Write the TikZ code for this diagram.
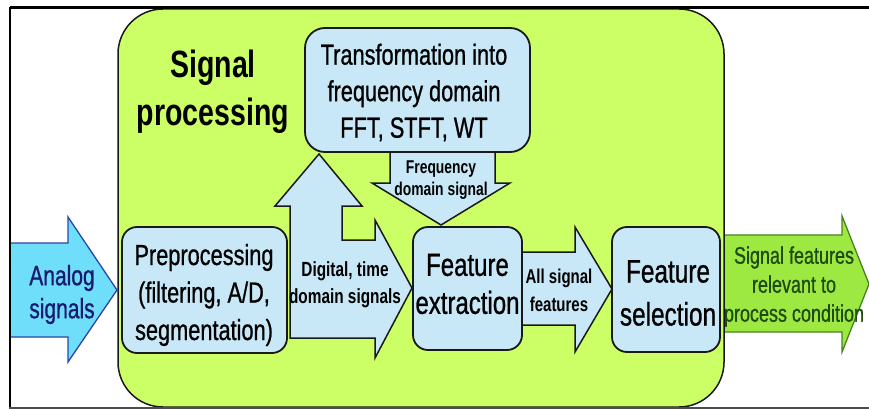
\documentclass[tikz,border=0pt]{standalone}
\usepackage{fontspec}
\setmainfont{Liberation Sans}[FakeStretch=0.75]
\newfontfamily\heavy{Liberation Sans}[FakeStretch=0.75, FakeBold=0.8]
\definecolor{spgreen}{RGB}{204,255,102}
\definecolor{boxblue}{RGB}{200,232,248}
\definecolor{anacyan}{RGB}{110,222,250}
\definecolor{anaedge}{RGB}{40,70,170}
\definecolor{anatext}{RGB}{25,25,112}
\definecolor{outgreen}{RGB}{158,232,66}
\definecolor{outedge}{RGB}{70,130,30}
\definecolor{outtext}{RGB}{30,75,20}
\definecolor{edge}{RGB}{25,25,25}
\tikzset{
  bluebox/.style={draw=edge, line width=1.8pt, fill=boxblue, rounded corners=15pt, inner sep=0pt},
  blockarrow/.style={draw=edge, line width=1.5pt, fill=boxblue, line join=miter},
  txt/.style={inner sep=0pt, align=center, text=black},
}
\begin{document}
\begin{tikzpicture}[x=1pt,y=-1pt]
\useasboundingbox (0,0) rectangle (869,409);
\fill[white] (0,0) rectangle (869,409);
% output arrow
\draw[line width=1.3pt, draw=outedge, fill=outgreen, line join=miter]
  (716,235) -- (842,235) -- (842,216) -- (869,284) -- (842,352) -- (842,332) -- (716,332) -- cycle;
% signal processing container
\node[draw=edge, line width=1.5pt, fill=spgreen, rounded corners=45pt, minimum width=606pt, minimum height=398pt, inner sep=0pt] (sp) at (421,208) {};
% analog arrow
\draw[line width=1.3pt, draw=anaedge, fill=anacyan, line join=miter]
  (10,243) -- (68,243) -- (68,217) -- (117,290) -- (68,362) -- (68,337) -- (10,337) -- cycle;
% up + right arrow
\draw[blockarrow]
  (290,338) -- (290,206) -- (275,206) -- (319,154) -- (362,206) -- (342,206) -- (342,240) -- (375,240) -- (375,220) -- (412,288) -- (375,358) -- (375,338) -- cycle;
% frequency arrow
\draw[blockarrow]
  (390,148) -- (495,148) -- (495,183) -- (510,183) -- (441,225) -- (372,183) -- (390,183) -- cycle;
% all signal arrow
\draw[blockarrow]
  (516,252) -- (575,252) -- (575,227) -- (612,289) -- (575,352) -- (575,325) -- (516,325) -- cycle;
% boxes
\node[bluebox, minimum width=165pt, minimum height=126pt] (pre) at (204.5,290) {};
\node[bluebox, rounded corners=20pt, minimum width=225pt, minimum height=124pt] (tr) at (417.5,90) {};
\node[bluebox, minimum width=109pt, minimum height=123pt] (fe) at (467.5,288.5) {};
\node[bluebox, minimum width=108pt, minimum height=125pt] (fs) at (666,289.5) {};
% texts
\node[txt, font=\bfseries\fontsize{38}{48}\selectfont] (title) at (213,91.5) {Signal\\processing};
\node[txt, font=\heavy\fontsize{29}{36.5}\selectfont] (trT) at (414,92.5) {Transformation into\\frequency domain\\FFT, STFT, WT};
\node[txt, font=\heavy\fontsize{29}{37.5}\selectfont] (preT) at (204,295) {Preprocessing\\(filtering, A/D,\\segmentation)};
\node[txt, font=\heavy\fontsize{32}{38}\selectfont] (feT) at (467.5,284) {Feature\\extraction};
\node[txt, font=\heavy\fontsize{32.5}{43}\selectfont] (fsT) at (668,293) {Feature\\selection};
\node[txt, text=anatext, font=\heavy\fontsize{28}{33}\selectfont] (anaT) at (62,294.5) {Analog\\signals};
\node[txt, font=\bfseries\fontsize{20.5}{27}\selectfont] (digT) at (345,285) {Digital, time\\domain signals};
\node[txt, font=\bfseries\fontsize{18.5}{22}\selectfont] (freqT) at (441,180) {Frequency\\domain signal};
\node[txt, font=\bfseries\fontsize{20}{28}\selectfont] (allT) at (559,290.7) {All signal\\features};
\node[txt, text=outtext, font=\heavy\fontsize{24}{29}\selectfont] (outT) at (794,286.5) {Signal features\\relevant to\\process condition};
% frame
\draw[line width=3pt, draw=black] (869,8) -- (10,8);
\draw[line width=2pt, draw=black] (10,7) -- (10,407.5);
\draw[line width=2pt, draw=black!70] (9,407.5) -- (869,407.5);
\end{tikzpicture}
\end{document}
